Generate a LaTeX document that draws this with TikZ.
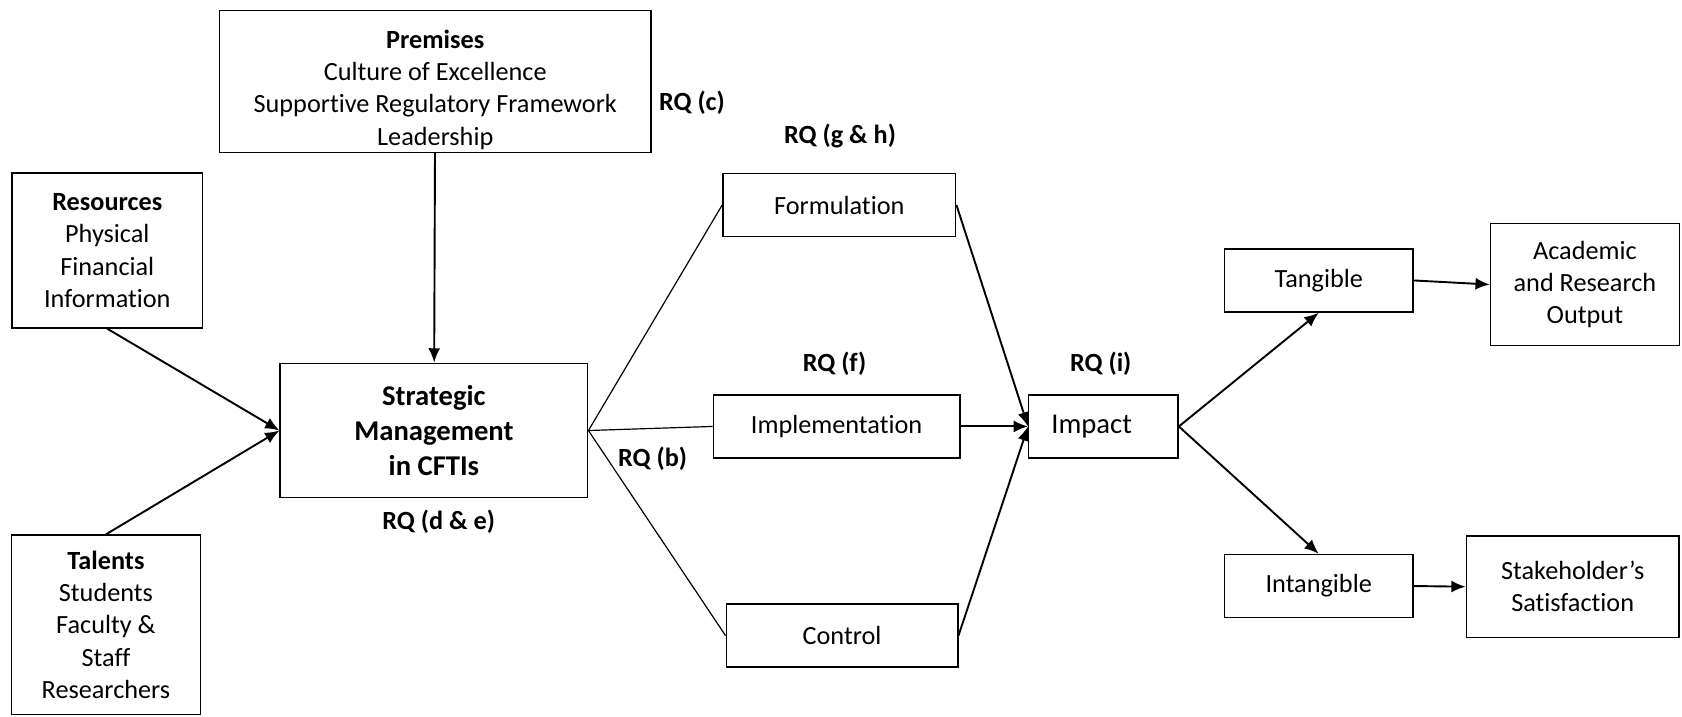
\documentclass[tikz,border=0pt]{standalone}
\usepackage{fontspec}
\setmainfont{Carlito}[Ligatures=NoCommon]
\usetikzlibrary{arrows.meta}

\begin{document}
\begin{tikzpicture}[
        font=\fontsize{11}{13.5}\selectfont,
        >={Latex[length=6pt,width=5pt]},
        box/.style={draw, line width=0.6pt, align=center, inner sep=2pt},
        stage/.style={box, minimum height=0.93cm},
        rq/.style={font=\fontsize{11}{13.5}\selectfont\bfseries},
        link/.style={line width=0.5pt},
        flow/.style={->, line width=0.8pt}
      ]
      \useasboundingbox (0,0) rectangle (24.77,10.55);

      \node[box, minimum width=6.35cm, minimum height=2.09cm, inner ysep=0pt, text height=55pt] (premises) at (6.41,9.35) {\textbf{Premises}\\Culture of Excellence\\Supportive Regulatory Framework\\Leadership};
      \node[box, minimum width=2.81cm, minimum height=2.28cm] (resources) at (1.58,6.86) {\textbf{Resources}\\Physical\\Financial\\Information};
      \node[box, minimum width=2.78cm, minimum height=2.64cm] (talents) at (1.56,1.35) {\textbf{Talents}\\Students\\Faculty \&\\Staff\\Researchers};
      \node[box, minimum width=4.53cm, minimum height=1.98cm, font=\fontsize{12}{14.8}\selectfont\bfseries] (sm) at (6.39,4.21) {Strategic\\Management\\in CFTIs};

      \node[stage, minimum width=3.43cm] (form) at (12.36,7.53) {Formulation};
      \node[stage, minimum width=3.63cm] (impl) at (12.32,4.27) {Implementation};
      \node[stage, minimum width=3.41cm] (ctrl) at (12.40,1.19) {Control};
      \node[stage, minimum width=2.20cm, font=\fontsize{12}{14.6}\selectfont] (impact) at (16.25,4.27) {Impact\hspace{0.35cm}};

      \node[stage, minimum width=2.78cm] (tang) at (19.42,6.42) {Tangible};
      \node[stage, minimum width=2.78cm] (intang) at (19.42,1.92) {Intangible};
      \node[box, minimum width=2.78cm, minimum height=1.79cm] (output) at (23.34,6.36) {Academic\\and Research\\Output};
      \node[box, minimum width=3.13cm, minimum height=1.49cm] (satis) at (23.16,1.91) {Stakeholder’s\\Satisfaction};

      \node[rq] (rq-c) at (10.19,9.04) {RQ (c)};
      \node[rq] (rq-de) at (6.46,2.86) {RQ (d \& e)};
      \node[rq] (rq-b) at (9.61,3.79) {RQ (b)};
      \node[rq] (rq-gh) at (12.37,8.55) {RQ (g \& h)};
      \node[rq] (rq-f) at (12.29,5.20) {RQ (f)};
      \node[rq] (rq-i) at (16.21,5.20) {RQ (i)};

      \draw[flow] (premises) -- (sm);
      \draw[flow] (resources.south) -- (sm.west);
      \draw[flow] (talents.north) -- (sm.west);

      \draw[link] (sm.east) -- (form.west);
      \draw[link] (sm.east) -- (impl.west);
      \draw[link] (sm.east) -- (ctrl.west);

      \draw[flow] (form.east) -- (impact.west);
      \draw[flow] (impl.east) -- (impact.west);
      \draw[flow] (ctrl.east) -- (impact.west);

      \draw[flow] (impact.east) -- (tang.south);
      \draw[flow] (impact.east) -- (intang.north);
      \draw[flow] (tang.east) -- (output.west);
      \draw[flow] (intang.east) -- (satis.west);
    \end{tikzpicture}
\end{document}
